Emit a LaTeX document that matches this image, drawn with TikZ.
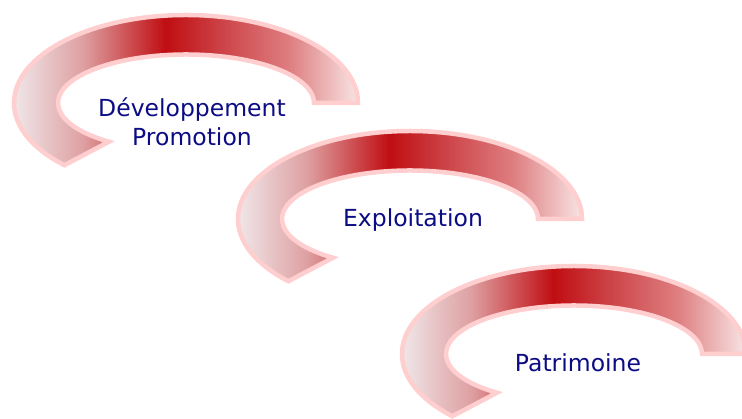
\documentclass[tikz,border=0pt]{standalone}
\usepackage{fontspec}
\setmainfont{DejaVu Sans}
\usepackage{xcolor}
\definecolor{bandpink}{RGB}{255,206,206}
\definecolor{textnavy}{RGB}{12,12,132}
\definecolor{bandL}{RGB}{240,230,232}
\definecolor{bandB}{RGB}{222,160,162}
\definecolor{bandC}{RGB}{192,14,18}
\definecolor{bandD}{RGB}{204,66,70}
\definecolor{bandE}{RGB}{222,126,128}
\definecolor{bandR}{RGB}{248,228,228}
\pgfdeclarehorizontalshading{bandshade}{100bp}{color(0bp)=(bandL); color(25bp)=(bandL); color(35bp)=(bandB); color(47bp)=(bandC); color(55bp)=(bandD); color(65bp)=(bandE); color(75bp)=(bandR); color(100bp)=(bandR)}

\begin{document}
\begin{tikzpicture}[x=1pt,y=1pt,
  band/.style={shade,shading=bandshade,draw=bandpink,line width=4.5pt,line join=miter},
  bandtext/.style={text=textnavy,font=\fontsize{23.5}{29}\selectfont,align=center}]
\useasboundingbox (0,0) rectangle (742,419);
\clip (0,0) rectangle (742,419);

% First arc band
\begin{scope}[shift={(186,316)}]
\path[band] (172,0) arc[start angle=0,end angle=225,x radius=172,y radius=88]
  -- (233:128 and 48.5) arc[start angle=233,end angle=0,x radius=128,y radius=48.5] -- cycle;
\end{scope}

% Second arc band
\begin{scope}[shift={(410,200)}]
\path[band] (172,0) arc[start angle=0,end angle=225,x radius=172,y radius=88]
  -- (233:128 and 48.5) arc[start angle=233,end angle=0,x radius=128,y radius=48.5] -- cycle;
\end{scope}

% Third arc band
\begin{scope}[shift={(574,65)}]
\path[band] (172,0) arc[start angle=0,end angle=225,x radius=172,y radius=88]
  -- (233:128 and 48.5) arc[start angle=233,end angle=0,x radius=128,y radius=48.5] -- cycle;
\end{scope}

% Labels
\node[bandtext] (devtext) at (192,297) {Développement\\Promotion};
\node[bandtext] (exptext) at (413,199) {Exploitation};
\node[bandtext] (pattext) at (578,56) {Patrimoine};
\end{tikzpicture}
\end{document}
